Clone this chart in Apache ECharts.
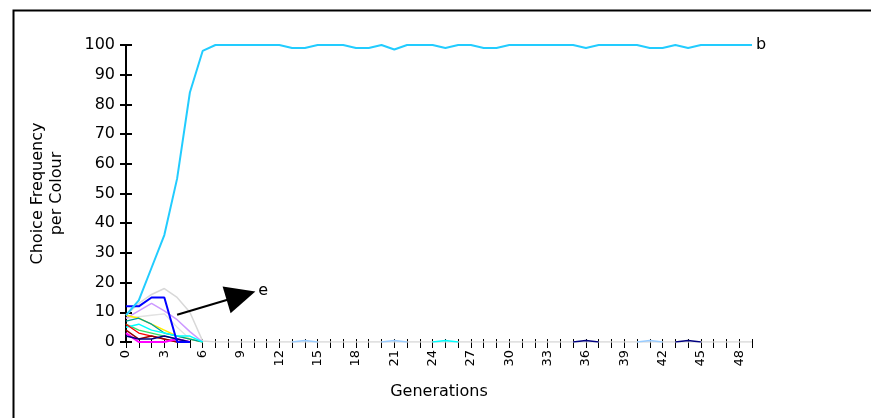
<!DOCTYPE html>
<html>
<head>
<meta charset="utf-8">
<script src="https://cdn.jsdelivr.net/npm/echarts@6/dist/echarts.min.js"></script>
<style>html,body{margin:0;padding:0;background:#fff}#c{width:871px;height:418px}</style>
</head>
<body>
<div id="c"></div>
<script>
const generations = ['0','1','2','3','4','5','6','7','8','9','10','11','12','13','14','15','16','17','18','19','20','21','22','23','24','25','26','27','28','29','30','31','32','33','34','35','36','37','38','39','40','41','42','43','44','45','46','47','48','49'];
const yTicks = [0,10,20,30,40,50,60,70,80,90,100];

// main colour "b"
const colourB = [9,14,25,36,55,84,98,100,100,100, 100,100,100,99,99,100,100,100,99,99, 100,98.5,100,100,100,99,100,100,99,99, 100,100,100,100,100,100,99,100,100,100, 100,99,99,100,99,100,100,100,100,100];
// other colours: [generation, value] pairs
const grayArc   = [[0,9],[1,13],[2,16],[3,18],[4,15],[5,10],[6,0.3],[7,0],[8,0],[9,0],[10,0],[11,0],[12,0],[13,0],[14,0],[15,0],[16,0],[17,0],[18,0],[19,0],[20,0],[21,0],[22,0],[23,0],[24,0],[25,0],[26,0],[27,0],[28,0],[29,0],[30,0],[31,0],[32,0],[33,0],[34,0],[35,0],[36,0],[37,0],[38,0],[39,0],[40,0],[41,0],[42,0],[43,0],[44,0],[45,0],[46,0],[47,0],[48,0],[49,0]];
const grayFlat  = [[0,8],[1,8.5],[2,9],[3,9.5],[4,5],[5,1],[6,0]];
const blue      = [[0,12],[1,12],[2,15],[3,15],[4,0],[5,0]];
const lavender  = [[0,8],[1,10.5],[2,13],[3,10.5],[4,7.5],[5,3.5],[6,0]];
const yellow    = [[0,9],[1,8],[2,6],[3,4],[4,2],[5,1],[6,0]];
const teal      = [[0,7],[1,8],[2,6],[3,3],[4,2],[5,1],[6,0]];
const green     = [[0,6],[1,4],[2,3],[3,2],[4,1],[5,0]];
const cyan      = [[0,5],[1,6],[2,4],[3,3],[4,2],[5,2],[6,0],[7,'-'],[24,0],[25,0.5],[26,0]];
const red       = [[0,6],[1,3],[2,2],[3,1],[4,0]];
const magenta   = [[0,3],[1,0],[2,0],[3,0],[4,1],[5,0]];
const darkRed   = [[0,4],[1,1],[2,2],[3,1],[4,0]];
const navy      = [[0,2],[1,1],[2,1],[3,2],[4,1],[5,0],[6,'-'],[35,0],[36,0.5],[37,0],[38,'-'],[43,0],[44,0.5],[45,0]];
const lightBlue = [[13,0],[14,0.5],[15,0],[16,'-'],[20,0],[21,0.5],[22,0],[23,'-'],[40,0],[41,0.5],[42,0]];

const FONT = 'DejaVu Sans';
const chart = echarts.init(document.getElementById('c'), null, {renderer:'canvas'});

function small(name, data, color, width) {
  return {name, type:'line', data, xAxisIndex:0, yAxisIndex:0, symbol:'none', connectNulls:false,
    lineStyle:{color, width: width || 1.3}, itemStyle:{color}, z:3, animation:false};
}

chart.setOption({
  animation:false,
  backgroundColor:'#fff',
  textStyle:{fontFamily:FONT},
  graphic:[{type:'rect', left:11, top:8, shape:{width:900, height:450}, style:{fill:'none', stroke:'#000', lineWidth:2}, z:100}],
  grid:[
    {left:126, right:119, top:45, bottom:76},
    {left:126, right:119, top:45, bottom:76}
  ],
  xAxis:[
    {type:'category', gridIndex:0, data:generations, boundaryGap:false,
     axisLine:{show:false},
     axisTick:{show:true, interval:0, length:6, lineStyle:{color:'#000', width:1}},
     axisLabel:{interval:2, rotate:90, fontSize:13, color:'#000', margin:8, fontFamily:FONT},
     splitLine:{show:false},
     name:'Generations', nameLocation:'middle', nameGap:42,
     nameTextStyle:{fontSize:16, color:'#000', fontFamily:FONT}},
    {type:'category', gridIndex:1, data:generations, boundaryGap:false,
     axisLine:{show:false},
     axisTick:{show:true, inside:true, interval:0, length:3, lineStyle:{color:'#000', width:1}},
     axisLabel:{show:false}, splitLine:{show:false}}
  ],
  yAxis:[
    {type:'value', gridIndex:0, min:0, max:100, interval:10,
     axisLine:{show:true, lineStyle:{color:'#000', width:2}},
     axisTick:{show:true, length:6, lineStyle:{color:'#000', width:2}},
     axisLabel:{fontSize:16, color:'#000', margin:11, fontFamily:FONT},
     splitLine:{show:false},
     name:'Choice Frequency\nper Colour', nameLocation:'middle', nameGap:60, nameRotate:90,
     nameTextStyle:{fontSize:16, color:'#000', lineHeight:19, fontFamily:FONT}},
    {type:'value', gridIndex:1, min:0, max:100, interval:10,
     axisLine:{show:false},
     axisTick:{show:true, inside:true, length:6, lineStyle:{color:'#000', width:2}},
     axisLabel:{show:false}, splitLine:{show:false}}
  ],
  series:[
    small('grayArc', grayArc, '#d8d8d8', 1.5),
    small('grayFlat', grayFlat, '#e2e2e2'),
    small('lavender', lavender, '#cc99ff', 1.5),
    small('yellow', yellow, '#ffee00', 1.5),
    small('teal', teal, '#009999'),
    small('green', green, '#33dd66'),
    small('cyan', cyan, '#00ffff', 1.5),
    small('red', red, '#ff0000'),
    small('darkRed', darkRed, '#990000', 1.5),
    small('magenta', magenta, '#ff00ff', 2),
    small('navy', navy, '#000080', 1.5),
    small('lightBlue', lightBlue, '#99ccff', 1.5),
    Object.assign(small('blue', blue, '#0000ff', 2), {
      markLine:{silent:true, symbol:['none','triangle'], symbolSize:[28,30],
        lineStyle:{color:'#000', width:2, type:'solid'},
        label:{show:true, position:'end', formatter:'e', color:'#000', fontSize:16, distance:18, fontFamily:FONT},
        data:[[{coord:[3.6, 9.2]}, {coord:[8.8, 15.6]}]]}
    }),
    Object.assign(small('b', colourB, '#22ccff', 2), {
      z:5,
      endLabel:{show:true, formatter:'b', color:'#000', fontSize:16, distance:4, fontFamily:FONT}
    })
  ]
});
</script>
</body>
</html>
